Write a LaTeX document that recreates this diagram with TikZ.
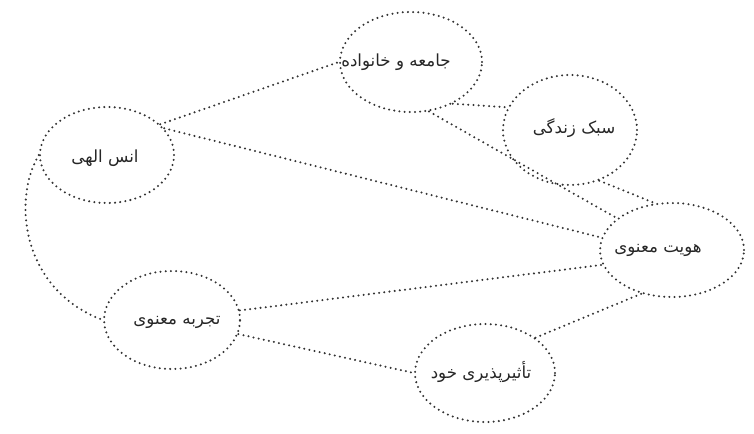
\documentclass[tikz,border=0pt]{standalone}
\usepackage{fontspec}
\newfontfamily\farsi[Script=Arabic]{DejaVu Sans}
\TeXXeTstate=1
\usetikzlibrary{shapes.geometric}

\newcommand{\fa}[1]{\beginR #1\endR}

\begin{document}
\begin{tikzpicture}[x=0.75pt, y=-0.75pt,
    dots/.style={line width=1.7pt, dash pattern=on 0pt off 3.9pt, line cap=round, black!80},
    bubble/.style={ellipse, draw, dots, inner sep=0pt},
    txt/.style={font=\fontsize{12.5}{14}\farsi, text=black!85}]

    \useasboundingbox (0,0) rectangle (754,433);

    % bubbles
    \node[bubble, minimum width=106.5pt, minimum height=75pt] (society) at (411,62) {};
    \node[bubble, minimum width=100.5pt, minimum height=82.5pt] (lifestyle) at (570,130) {};
    \node[bubble, minimum width=100.5pt, minimum height=72pt] (faith) at (107,155) {};
    \node[bubble, minimum width=108pt, minimum height=70.5pt] (identity) at (672,250) {};
    \node[bubble, minimum width=102pt, minimum height=73.5pt] (experience) at (172,320) {};
    \node[bubble, minimum width=105pt, minimum height=73.5pt] (selfinfl) at (485,373) {};

    % labels
    \node[txt] (societytxt) at (396,62) {\fa{جامعه و خانواده}};
    \node[txt] (lifestyletxt) at (574,128) {\fa{سبک زندگی}};
    \node[txt] (faithtxt) at (105,158) {\fa{انس الهی}};
    \node[txt] (identitytxt) at (658,250) {\fa{هویت معنوی}};
    \node[txt] (experiencetxt) at (177,322) {\fa{تجربه معنوی}};
    \node[txt] (selfinfltxt) at (481,372) {\fa{تأثیرپذیری خود}};

    % links
    \draw[dots] (faith.30) -- (society.west);
    \draw[dots] (faith.25) -- (identity.170);
    \draw[dots] (faith.west) .. controls (12,200) and (22,290) .. (experience.west);
    \draw[dots] (society.-45) -- (lifestyle.160);
    \draw[dots] (society.-70) -- (identity.150);
    \draw[dots] (lifestyle.-60) -- (identity.110);
    \draw[dots] (experience.8) -- (identity.192);
    \draw[dots] (experience.-12) -- (selfinfl.west);
    \draw[dots] (selfinfl.35) -- (identity.235);
\end{tikzpicture}
\end{document}
